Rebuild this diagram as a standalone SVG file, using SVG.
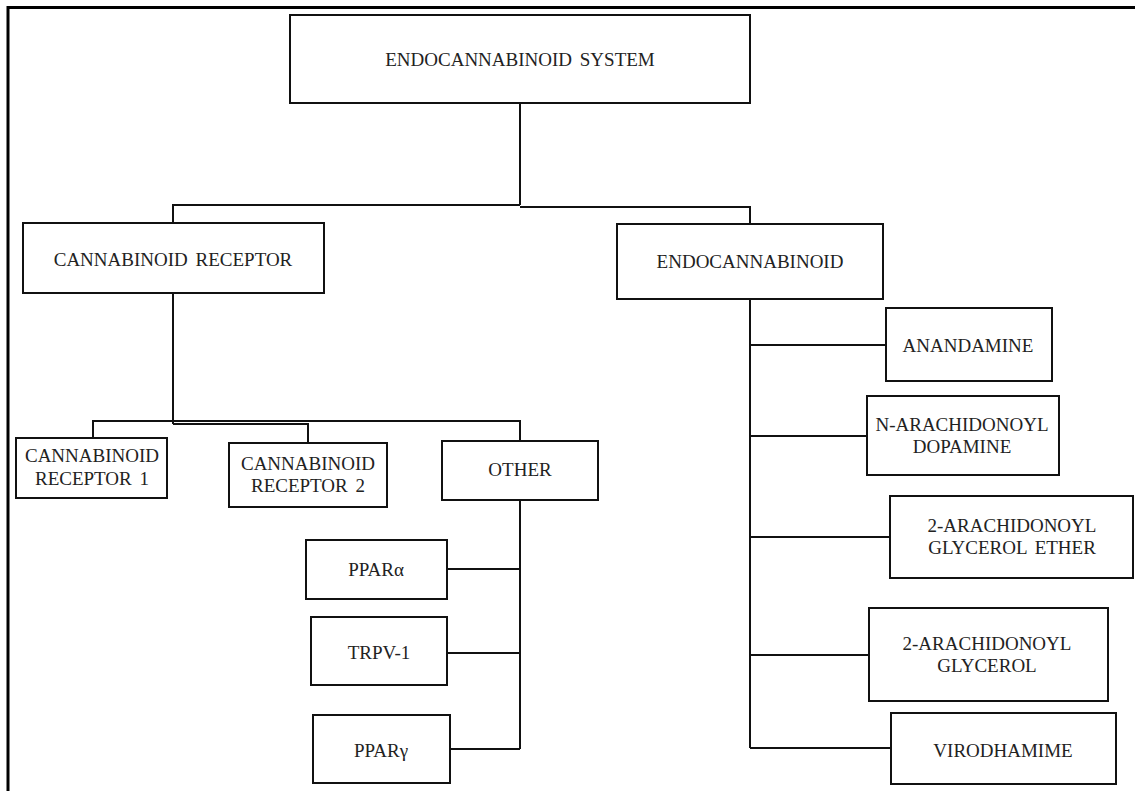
<svg xmlns="http://www.w3.org/2000/svg" width="1135" height="791" viewBox="0 0 1135 791">
<style>
.box{fill:#fff;stroke:#111;stroke-width:2}
.lbl{font-family:"Liberation Serif","Times New Roman",serif;font-size:19px;fill:#222;text-anchor:middle;word-spacing:3px}
.con{fill:none;stroke:#111;stroke-width:2}
.frame{fill:none;stroke:#000;stroke-width:3}
</style>
<rect width="1135" height="791" fill="#fff"/>
<path class="frame" d="M8,791 V7.5 H1135"/>
<g id="connectors">
<path class="con" d="M520,103 V205 M173,223 V205 H520 M520,207 H750 V224"/>
<path class="con" d="M173,293 V424 M93,438 V421 H520 V441 M173,424 H308 V443"/>
<path class="con" d="M520,500 V749 M447,569 H520 M447,653 H520 M450,749 H520"/>
<path class="con" d="M750,299 V748 M750,345 H886 M750,436 H867 M750,537 H890 M750,655 H869 M750,748 H891"/>
</g>
<g id="n-system"><rect class="box" x="290" y="15" width="460" height="88"/><text class="lbl" x="520" y="66">ENDOCANNABINOID SYSTEM</text></g>
<g id="n-receptor"><rect class="box" x="23" y="223" width="301" height="70"/><text class="lbl" x="173" y="266">CANNABINOID RECEPTOR</text></g>
<g id="n-endo"><rect class="box" x="617" y="224" width="266" height="75"/><text class="lbl" x="750" y="268">ENDOCANNABINOID</text></g>
<g id="n-cr1"><rect class="box" x="16" y="438" width="151" height="60"/><text class="lbl" x="92" y="462">CANNABINOID</text><text class="lbl" x="92" y="485">RECEPTOR 1</text></g>
<g id="n-cr2"><rect class="box" x="229" y="443" width="158" height="64"/><text class="lbl" x="308" y="470">CANNABINOID</text><text class="lbl" x="308" y="492">RECEPTOR 2</text></g>
<g id="n-other"><rect class="box" x="442" y="441" width="156" height="59"/><text class="lbl" x="520" y="476">OTHER</text></g>
<g id="n-ppara"><rect class="box" x="306" y="540" width="141" height="59"/><text class="lbl" x="376" y="576">PPARα</text></g>
<g id="n-trpv1"><rect class="box" x="311" y="617" width="136" height="68"/><text class="lbl" x="379" y="659">TRPV-1</text></g>
<g id="n-pparg"><rect class="box" x="313" y="715" width="137" height="68"/><text class="lbl" x="381" y="757">PPARγ</text></g>
<g id="n-anandamine"><rect class="box" x="886" y="308" width="166" height="73"/><text class="lbl" x="968" y="352">ANANDAMINE</text></g>
<g id="n-nada"><rect class="box" x="867" y="396" width="192" height="79"/><text class="lbl" x="962" y="431">N-ARACHIDONOYL</text><text class="lbl" x="962" y="453">DOPAMINE</text></g>
<g id="n-2agether"><rect class="box" x="890" y="496" width="243" height="82"/><text class="lbl" x="1012" y="532">2-ARACHIDONOYL</text><text class="lbl" x="1012" y="554">GLYCEROL ETHER</text></g>
<g id="n-2ag"><rect class="box" x="869" y="608" width="239" height="93"/><text class="lbl" x="987" y="650">2-ARACHIDONOYL</text><text class="lbl" x="987" y="672">GLYCEROL</text></g>
<g id="n-virodhamime"><rect class="box" x="891" y="713" width="225" height="71"/><text class="lbl" x="1003" y="757">VIRODHAMIME</text></g>
</svg>
